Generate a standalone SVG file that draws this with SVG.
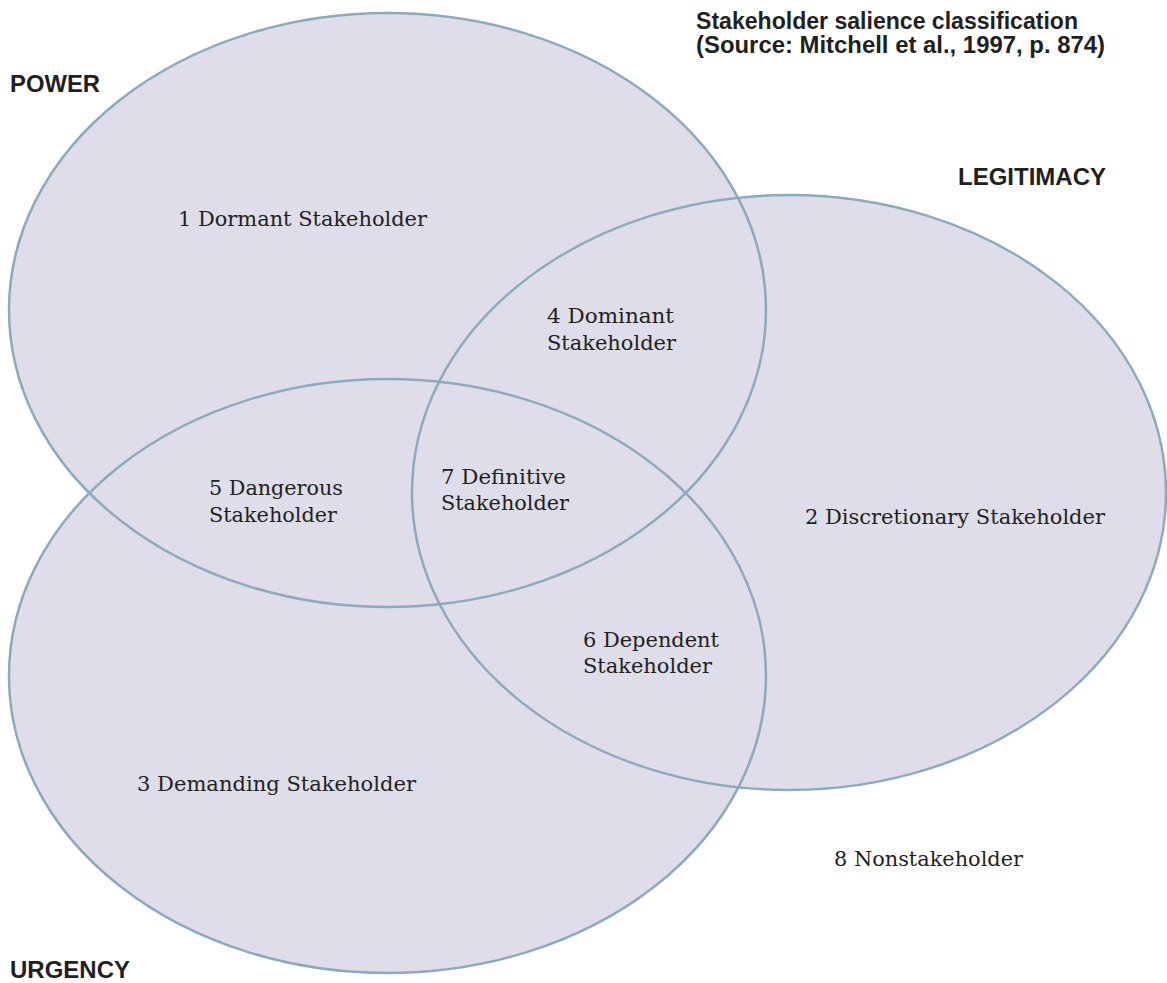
<svg xmlns="http://www.w3.org/2000/svg" width="1167" height="983" viewBox="0 0 1167 983">
<style>
.fill{fill:#dfdde9;stroke:none}
.ring{fill:none;stroke:#8caabe;stroke-width:2.5}
.lbl{font-family:"DejaVu Serif","Liberation Serif",serif;font-size:21px;fill:#231f20}
.hdr{font-family:"Liberation Sans",Arial,sans-serif;font-weight:bold;font-size:23px;fill:#231f20}
</style>
<rect width="1167" height="983" fill="#ffffff"/>
<g id="fills">
<ellipse class="fill" cx="387.5" cy="310" rx="378.5" ry="297"/>
<ellipse class="fill" cx="789" cy="492.5" rx="377" ry="297.5"/>
<ellipse class="fill" cx="387.5" cy="676" rx="378.5" ry="297"/>
</g>
<g id="power">
<ellipse class="ring" cx="387.5" cy="310" rx="378.5" ry="297"/>
<text class="hdr" x="10" y="92" textLength="90" lengthAdjust="spacingAndGlyphs">POWER</text>
</g>
<g id="legitimacy">
<ellipse class="ring" cx="789" cy="492.5" rx="377" ry="297.5"/>
<text class="hdr" x="958" y="185" textLength="148" lengthAdjust="spacingAndGlyphs">LEGITIMACY</text>
</g>
<g id="urgency">
<ellipse class="ring" cx="387.5" cy="676" rx="378.5" ry="297"/>
<text class="hdr" x="10" y="978" font-size="22" textLength="120" lengthAdjust="spacingAndGlyphs">URGENCY</text>
</g>
<g id="title">
<text class="hdr" x="696" y="29" font-size="19.5" textLength="382" lengthAdjust="spacingAndGlyphs">Stakeholder salience classification</text>
<text class="hdr" x="696" y="53" font-size="19.5" textLength="409" lengthAdjust="spacingAndGlyphs">(Source: Mitchell et al., 1997, p. 874)</text>
</g>
<g id="connectors"></g>
<g id="n1"><text class="lbl" x="178" y="226" textLength="249" lengthAdjust="spacingAndGlyphs">1 Dormant Stakeholder</text></g>
<g id="n2"><text class="lbl" x="805" y="524" textLength="300" lengthAdjust="spacingAndGlyphs">2 Discretionary Stakeholder</text></g>
<g id="n3"><text class="lbl" x="137" y="791" textLength="279" lengthAdjust="spacingAndGlyphs">3 Demanding Stakeholder</text></g>
<g id="n4"><text class="lbl" x="547" y="323" textLength="127" lengthAdjust="spacingAndGlyphs">4 Dominant</text><text class="lbl" x="547" y="350" textLength="129" lengthAdjust="spacingAndGlyphs">Stakeholder</text></g>
<g id="n5"><text class="lbl" x="209" y="495" textLength="134" lengthAdjust="spacingAndGlyphs">5 Dangerous</text><text class="lbl" x="209" y="522" textLength="128" lengthAdjust="spacingAndGlyphs">Stakeholder</text></g>
<g id="n6"><text class="lbl" x="583" y="647" textLength="136" lengthAdjust="spacingAndGlyphs">6 Dependent</text><text class="lbl" x="583" y="673" textLength="129" lengthAdjust="spacingAndGlyphs">Stakeholder</text></g>
<g id="n7"><text class="lbl" x="441" y="484" textLength="125" lengthAdjust="spacingAndGlyphs">7 Definitive</text><text class="lbl" x="441" y="510" textLength="128" lengthAdjust="spacingAndGlyphs">Stakeholder</text></g>
<g id="n8"><text class="lbl" x="834" y="866" textLength="189" lengthAdjust="spacingAndGlyphs">8 Nonstakeholder</text></g>
</svg>
